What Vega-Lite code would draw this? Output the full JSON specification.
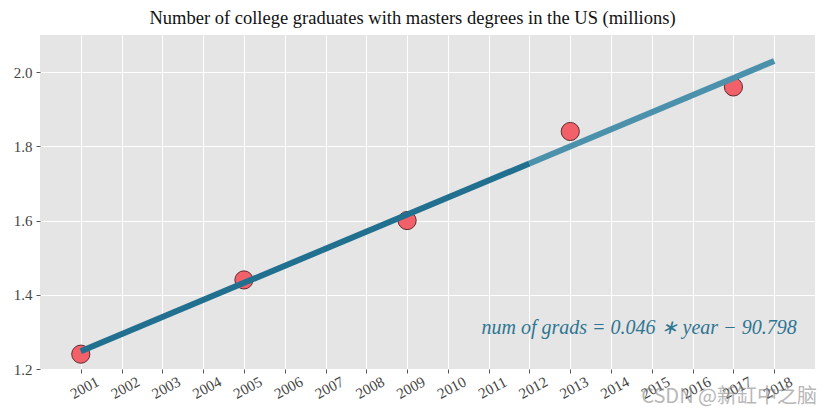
{
  "$schema": "https://vega.github.io/schema/vega-lite/v6.json",
  "width": 775,
  "height": 334,
  "autosize": "none",
  "padding": {"left": 40, "top": 35, "right": 13, "bottom": 45},
  "background": "white",
  "title": {
    "text": "Number of college graduates with masters degrees in the US (millions)",
    "font": "Liberation Serif",
    "fontSize": 18.5,
    "fontWeight": "normal",
    "color": "#111111",
    "anchor": "middle",
    "dx": -15,
    "offset": 8
  },
  "config": {
    "view": {"fill": "#e5e5e5", "stroke": null},
    "axis": {
      "domain": false,
      "grid": true,
      "gridColor": "#ffffff",
      "gridWidth": 1,
      "tickColor": "#555555",
      "tickSize": 4,
      "labelFont": "Liberation Serif",
      "labelFontSize": 15,
      "labelColor": "#444444",
      "title": null
    }
  },
  "datasets": {
    "obs": [
      {"year": 2001, "grads": 1.24},
      {"year": 2005, "grads": 1.44},
      {"year": 2009, "grads": 1.60},
      {"year": 2013, "grads": 1.84},
      {"year": 2017, "grads": 1.96}
    ],
    "fit": [
      {"year": 2001, "grads": 1.248, "part": "past"},
      {"year": 2012, "grads": 1.754, "part": "past"},
      {"year": 2012, "grads": 1.754, "part": "future"},
      {"year": 2018, "grads": 2.03, "part": "future"}
    ],
    "notes": [
      {"year": 2018.55, "grads": 1.31, "label": "num of grads = 0.046 ∗ year − 90.798"}
    ],
    "mark": [
      {"year": 2019, "grads": 1.2, "label": "CSDN @新缸中之脑"}
    ]
  },
  "encoding": {
    "x": {
      "field": "year",
      "type": "quantitative",
      "scale": {"domain": [2000, 2019], "nice": false, "zero": false},
      "axis": {
        "values": [2001, 2002, 2003, 2004, 2005, 2006, 2007, 2008, 2009, 2010, 2011, 2012, 2013, 2014, 2015, 2016, 2017, 2018],
        "format": "d",
        "labelAngle": -28,
        "labelAlign": "center",
        "labelBaseline": "top",
        "labelPadding": 8
      }
    },
    "y": {
      "field": "grads",
      "type": "quantitative",
      "scale": {"domain": [1.2, 2.1], "nice": false, "zero": false},
      "axis": {
        "values": [1.2, 1.4, 1.6, 1.8, 2.0],
        "format": ".1f",
        "labelPadding": 4
      }
    }
  },
  "layer": [
    {
      "data": {"name": "obs"},
      "mark": {"type": "point", "shape": "circle", "filled": true, "size": 330, "fill": "#f2616a", "stroke": "#5c2a2e", "strokeWidth": 1, "opacity": 1}
    },
    {
      "data": {"name": "fit"},
      "transform": [{"filter": "datum.part == 'past'"}],
      "mark": {"type": "line", "color": "#21708f", "strokeWidth": 6, "strokeCap": "butt"}
    },
    {
      "data": {"name": "fit"},
      "transform": [{"filter": "datum.part == 'future'"}],
      "mark": {"type": "line", "color": "#4b91ab", "strokeWidth": 6, "strokeCap": "butt"}
    },
    {
      "data": {"name": "notes"},
      "mark": {"type": "text", "align": "right", "baseline": "middle", "font": "Liberation Serif", "fontStyle": "italic", "fontSize": 20, "color": "#2f7592"},
      "encoding": {"text": {"field": "label"}}
    },
    {
      "data": {"name": "mark"},
      "mark": {"type": "text", "align": "right", "baseline": "top", "dy": 18, "dx": 2, "font": "Noto Sans CJK SC", "fontSize": 20, "color": "#888888", "opacity": 0.6},
      "encoding": {"text": {"field": "label"}}
    }
  ]
}
